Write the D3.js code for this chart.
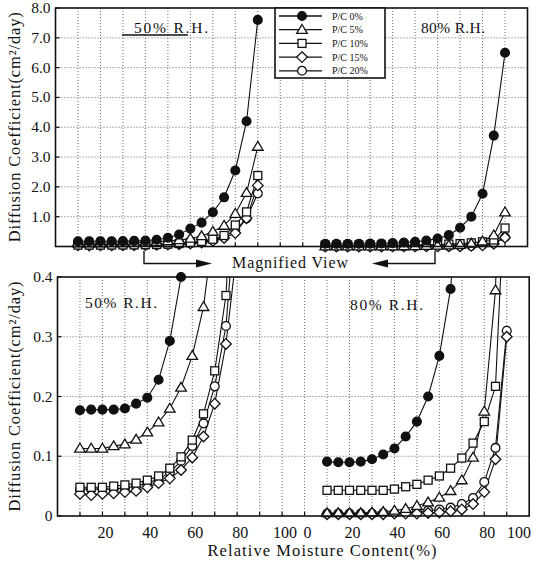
<!DOCTYPE html>
<html>
<head>
<meta charset="utf-8">
<script src="https://cdn.jsdelivr.net/npm/d3@7"></script>
<style>
  body { margin: 0; background: #fff; }
  svg text { font-family: "Liberation Serif", "DejaVu Serif", "Times New Roman", Times, serif; fill: #111; }
</style>
</head>
<body>
<div id="root"></div>
<script>
const width = 533;
const height = 564;

// relative moisture content (%) of every measured point
const moisture = [10, 15, 20, 25, 30, 35, 40, 45, 50, 55, 60, 65, 70, 75, 80, 85, 90];

// 50% R.H. curing
const pc0_50 = [0.177, 0.178, 0.178, 0.178, 0.18, 0.188, 0.198, 0.228, 0.293, 0.4, 0.6, 0.8, 1.15, 1.65, 2.55, 4.2, 7.6];
const pc5_50 = [0.113, 0.113, 0.113, 0.117, 0.12, 0.128, 0.14, 0.157, 0.18, 0.215, 0.268, 0.35, 0.5, 0.7, 1.1, 1.8, 3.35];
const pc10_50 = [0.048, 0.048, 0.048, 0.05, 0.052, 0.055, 0.06, 0.067, 0.08, 0.099, 0.127, 0.171, 0.243, 0.369, 0.72, 1.16, 2.38];
const pc15_50 = [0.037, 0.035, 0.037, 0.038, 0.04, 0.042, 0.048, 0.055, 0.063, 0.077, 0.098, 0.133, 0.188, 0.288, 0.45, 0.95, 2.05];
const pc20_50 = [0.045, 0.045, 0.045, 0.045, 0.047, 0.05, 0.055, 0.062, 0.073, 0.092, 0.117, 0.155, 0.217, 0.318, 0.55, 0.94, 1.78];

// 80% R.H. curing
const pc0_80 = [0.091, 0.09, 0.09, 0.091, 0.095, 0.103, 0.113, 0.133, 0.158, 0.2, 0.268, 0.38, 0.63, 1.0, 1.77, 3.72, 6.5];
const pc5_80 = [0.005, 0.005, 0.005, 0.005, 0.006, 0.007, 0.009, 0.012, 0.017, 0.023, 0.031, 0.042, 0.06, 0.098, 0.175, 0.378, 1.15];
const pc10_80 = [0.043, 0.043, 0.043, 0.043, 0.043, 0.043, 0.045, 0.049, 0.053, 0.06, 0.067, 0.08, 0.097, 0.122, 0.158, 0.217, 0.62];
const pc15_80 = [0.003, 0.003, 0.003, 0.003, 0.003, 0.003, 0.004, 0.004, 0.004, 0.005, 0.006, 0.008, 0.011, 0.02, 0.04, 0.095, 0.3];
const pc20_80 = [0.004, 0.004, 0.004, 0.004, 0.004, 0.005, 0.005, 0.006, 0.007, 0.009, 0.011, 0.014, 0.02, 0.03, 0.057, 0.114, 0.31];

const seriesNames = ["P/C 0%", "P/C 5%", "P/C 10%", "P/C 15%", "P/C 20%"];
const symbols = ["dot", "triangle", "square", "diamond", "circle"];
const rhNames = ["50% R.H.", "80% R.H."];

const xTicksLeft = [20, 40, 60, 80, 100];
const xTicksRight = [0, 20, 40, 60, 80, 100];
const yTicksTop = [1, 2, 3, 4, 5, 6, 7, 8];
const yTicksBottom = [0, 0.1, 0.2, 0.3, 0.4];

// right half of the x axis starts again at 0, shifted by this many units
const rightShift = 110;

const series = [
  [pc0_50, pc5_50, pc10_50, pc15_50, pc20_50],
  [pc0_80, pc5_80, pc10_80, pc15_80, pc20_80]
].flatMap((group, g) =>
  group.map((vals, i) => ({
    name: seriesNames[i],
    symbol: symbols[i],
    points: moisture.map((m, j) => ({ x: m + g * rightShift, y: vals[j] }))
  }))
);

const svg = d3.select("#root")
  .append("svg")
  .attr("width", width)
  .attr("height", height)
  .attr("font-family", "'Liberation Serif', 'DejaVu Serif', serif")
  .style("background", "#fff");

function marker(sel, type) {
  if (type === "dot" || type === "circle") {
    sel.append("circle").attr("r", 4.4)
      .attr("fill", type === "dot" ? "#111" : "#fff");
  } else if (type === "triangle") {
    sel.append("path").attr("d", "M0,-5.2L5.3,3.6L-5.3,3.6Z").attr("fill", "#fff");
  } else if (type === "square") {
    sel.append("rect").attr("x", -4).attr("y", -4).attr("width", 8).attr("height", 8).attr("fill", "#fff");
  } else {
    sel.append("path").attr("d", "M0,-5.3L5.3,0L0,5.3L-5.3,0Z").attr("fill", "#fff");
  }
  sel.selectAll("*").attr("stroke", "#111").attr("stroke-width", 1.3);
}

function panel(opts) {
  const x = d3.scaleLinear().domain([0, 210]).range(opts.xRange);
  const y = d3.scaleLinear().domain(opts.yDomain).range(opts.yRange);
  const g = svg.append("g");
  const [x0, x1] = opts.xRange;
  const [yb, yt] = opts.yRange;

  // dotted grid
  g.append("g").selectAll("line")
    .data(d3.range(10, 210, 10))
    .join("line")
    .attr("x1", (d) => x(d)).attr("x2", (d) => x(d))
    .attr("y1", yt).attr("y2", yb)
    .attr("stroke", "#444").attr("stroke-width", 0.8)
    .attr("stroke-dasharray", "1,2");
  g.append("g").selectAll("line")
    .data(opts.yTicks.filter((d) => d > opts.yDomain[0] && d < opts.yDomain[1]))
    .join("line")
    .attr("x1", x0).attr("x2", x1)
    .attr("y1", (d) => y(d)).attr("y2", (d) => y(d))
    .attr("stroke", "#444").attr("stroke-width", 0.8)
    .attr("stroke-dasharray", "1,2");

  // small inward ticks
  g.append("g").selectAll("line")
    .data(d3.range(10, 210, 10))
    .join("line")
    .attr("x1", (d) => x(d)).attr("x2", (d) => x(d))
    .attr("y1", yb).attr("y2", yb - 4)
    .attr("stroke", "#111").attr("stroke-width", 1.2);
  g.append("g").selectAll("line")
    .data(opts.yTicks)
    .join("line")
    .attr("x1", x0).attr("x2", x0 + 4)
    .attr("y1", (d) => y(d)).attr("y2", (d) => y(d))
    .attr("stroke", "#111").attr("stroke-width", 1.2);

  // y tick labels
  g.append("g").selectAll("text")
    .data(opts.yTicks)
    .join("text")
    .attr("x", x0 - 5)
    .attr("y", (d) => y(d) + 5)
    .attr("text-anchor", "end")
    .attr("font-size", 15.5)
    .text(opts.yFormat);

  // y axis title
  g.append("text")
    .attr("transform", `translate(${opts.titleX},${(yb + yt) / 2}) rotate(-90)`)
    .attr("text-anchor", "middle")
    .attr("font-size", 16.5)
    .attr("textLength", 230)
    .attr("lengthAdjust", "spacing")
    .text("Diffusion Coefficient(cm²/day)");

  // rh labels
  opts.rhPos.forEach((p, i) => {
    g.append("text")
      .attr("x", p[0]).attr("y", p[1])
      .attr("font-size", 15.5)
      .attr("textLength", p[2])
      .attr("lengthAdjust", "spacing")
      .text(rhNames[i]);
  });

  const clipId = "clip" + opts.id;
  svg.append("clipPath").attr("id", clipId)
    .append("rect")
    .attr("x", x0).attr("y", yt)
    .attr("width", x1 - x0).attr("height", yb - yt);

  const line = d3.line().x((d) => x(d.x)).y((d) => y(d.y));
  const maxY = opts.yDomain[1] * 1.015;

  g.append("g").attr("clip-path", `url(#${clipId})`)
    .selectAll("path")
    .data(series)
    .join("path")
    .attr("d", (d) => line(d.points))
    .attr("fill", "none")
    .attr("stroke", "#111")
    .attr("stroke-width", 1.1);

  // markers drawn back to front, filled dots last
  const order = [4, 3, 2, 1, 0, 9, 8, 7, 6, 5];
  order.forEach((si) => {
    const s = series[si];
    g.append("g").selectAll("g")
      .data(s.points.filter((p) => p.y <= maxY))
      .join("g")
      .attr("transform", (p) => `translate(${x(p.x)},${y(p.y)})`)
      .each(function () { marker(d3.select(this), s.symbol); });
  });

  // frame
  g.append("rect")
    .attr("x", x0).attr("y", yt)
    .attr("width", x1 - x0).attr("height", yb - yt)
    .attr("fill", "none")
    .attr("stroke", "#111")
    .attr("stroke-width", 1.6);

  return x;
}

// top panel: full range
panel({
  id: "top",
  xRange: [55.5, 527.5],
  yDomain: [0, 8],
  yRange: [246.5, 8],
  yTicks: yTicksTop,
  yFormat: (d) => d.toFixed(1),
  titleX: 20,
  rhPos: [[134, 33, 74], [421, 33, 64]]
});

// artefact line under the top-left label
svg.append("line")
  .attr("x1", 122).attr("x2", 188).attr("y1", 35).attr("y2", 35)
  .attr("stroke", "#111").attr("stroke-width", 1.3);

// bottom panel: magnified view
const xb = panel({
  id: "bottom",
  xRange: [57.5, 529.2],
  yDomain: [0, 0.4],
  yRange: [516, 277],
  yTicks: yTicksBottom,
  yFormat: (d) => (d === 0 ? "0" : d.toFixed(1)),
  titleX: 20,
  rhPos: [[85, 308, 72], [350, 310, 73]]
});

// x tick labels, bottom panel
svg.append("g").selectAll("text")
  .data(xTicksLeft.map((d) => ({ v: d, pos: d })).concat(xTicksRight.map((d) => ({ v: d, pos: d + rightShift }))))
  .join("text")
  .attr("x", (d) => Math.min(xb(d.pos) + 3, width - 14))
  .attr("y", 538)
  .attr("text-anchor", "middle")
  .attr("font-size", 16)
  .text((d) => d.v);

svg.append("text")
  .attr("x", 322).attr("y", 556)
  .attr("text-anchor", "middle")
  .attr("font-size", 16.5)
  .attr("textLength", 229)
  .attr("lengthAdjust", "spacing")
  .text("Relative Moisture Content(%)");

// legend
const legend = svg.append("g");
legend.append("rect")
  .attr("x", 275).attr("y", 8).attr("width", 110).attr("height", 70)
  .attr("fill", "#fff").attr("stroke", "#111").attr("stroke-width", 1.6);
seriesNames.forEach((name, i) => {
  const ly = 16 + i * 13.7;
  legend.append("line")
    .attr("x1", 279).attr("x2", 322).attr("y1", ly).attr("y2", ly)
    .attr("stroke", "#111").attr("stroke-width", 1.3);
  marker(legend.append("g").attr("transform", `translate(302,${ly})`), symbols[i]);
  legend.append("text")
    .attr("x", 332).attr("y", ly + 3.5)
    .attr("font-size", 10)
    .text(name);
});

// "Magnified View" bracket
const mv = svg.append("g").attr("stroke", "#111").attr("stroke-width", 1.4).attr("fill", "none");
mv.append("path").attr("d", "M144,251V263.5H198");
mv.append("path").attr("d", "M435,251V263.5H386");
svg.append("path").attr("d", "M196,259.5L212,263.5L196,267.5Z").attr("fill", "#111");
svg.append("path").attr("d", "M388,259.5L372,263.5L388,267.5Z").attr("fill", "#111");
svg.append("text")
  .attr("x", 290).attr("y", 268)
  .attr("text-anchor", "middle")
  .attr("font-size", 16)
  .attr("textLength", 116)
  .attr("lengthAdjust", "spacing")
  .text("Magnified View");
</script>
</body>
</html>
